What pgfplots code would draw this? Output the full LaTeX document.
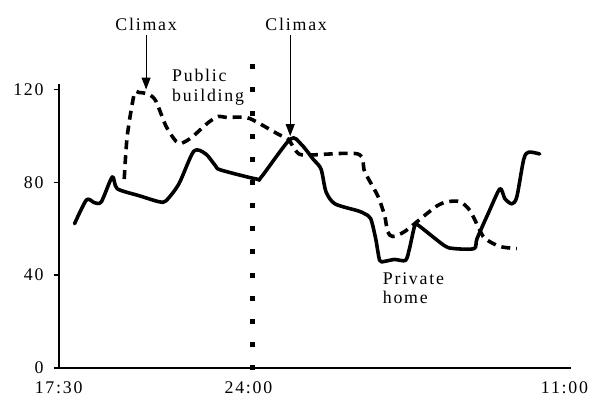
\documentclass[border=0pt]{standalone}
\usepackage{pgfplots}
\pgfplotsset{compat=1.18}
\usepackage{fontspec}
\setmainfont{Liberation Serif}[LetterSpace=10]
\usetikzlibrary{arrows.meta}

\begin{document}
\fontsize{18}{20}\selectfont
\begin{tikzpicture}
\begin{axis}[
  scale only axis, width=516bp, height=285.8bp,
  xmin=59, xmax=575, ymin=0, ymax=122.5,
  axis x line=bottom, axis y line=left,
  axis line style={-, line width=2.2bp},
  xtick={59,250,568}, xticklabels={17:30,24:00,11:00},
  ytick={0,40,80,120},
  x tick style={draw=none},
  y tick style={line width=1.5bp, black},
  major tick length=5bp, tick align=outside,
  yticklabel style={xshift=-4bp},
  xticklabel style={yshift=-3bp},
  clip=false,
  /pgf/number format/assume math mode=true,
  tick label style={font=\fontsize{18}{20}\selectfont},
]
% invisible frame, keeps the page at the reference size
\path (axis cs:0,-13.72) rectangle (axis cs:594,158.6);

% private home (solid)
\addplot[black, line width=3.6bp, smooth, tension=0.45, line cap=round, line join=round] coordinates {
  (75,62.1) (87,72.4) (95,71.2) (102,71.6) (113,82.3) (118,77.2) (140,74.2)
  (160,71.6) (167,72) (180,79.3) (195,93.4) (207,92.2) (217,87) (222,85.3)
  (258,81.4) (263,82.3) (292,98.6) (303,96.4) (315,90) (323,85.7) (328,75.9)
  (337,70.7) (360,67.7) (367,66.4) (373,64.3) (378,55.7) (382,46.3) (387,45.9)
  (397,46.7) (408,46.3) (412,51.4) (417,60.9) (420,61.7) (447,52.7) (457,51.4)
  (477,51.4) (480,55.7) (492,67.3) (503,77.2) (508,72.9) (515,70.7) (520,73.7)
  (527,90) (532,93) (543,92.2)
};

% public building (dashed)
\addplot[black, line width=3.6bp, smooth, tension=0.45, dash pattern=on 9bp off 6bp, line join=round] coordinates {
  (125,81.4) (128,99.9) (135,117.9) (140,118.7) (150,117.9) (157,114.9)
  (167,104.2) (177,97.7) (183,96.9) (193,99.4) (210,105.9) (220,108.4)
  (227,108) (247,108) (257,106.3) (280,100.7) (290,98.6) (298,93.4) (307,91.7)
  (360,92.2) (367,84.4) (380,74.2) (387,65.6) (390,58.7) (395,56.6) (407,58.7)
  (427,65.6) (440,69.9) (450,71.6) (463,71.6) (473,67.7) (482,60) (488,55.7)
  (503,52.3) (520,51.4)
};

% midnight marker (dotted)
\addplot[black, line width=5bp, dash pattern=on 5bp off 18.3bp] coordinates {(254,-1.07) (254,130.9)};

% annotations
\node at (axis cs:147,147.9) {Climax};
\draw[-{Triangle[length=12bp,width=9bp]}, line width=1.2bp] (axis cs:147,143.6) -- (axis cs:147,120);
\node at (axis cs:298,147.9) {Climax};
\draw[-{Triangle[length=12bp,width=9bp]}, line width=1.2bp] (axis cs:292,143.6) -- (axis cs:292,99.9);
\node[anchor=west, align=left, inner sep=0pt] at (axis cs:173,120.9) {Public\\building};
\node[anchor=west, align=left, inner sep=0pt] at (axis cs:385,34.3) {Private\\home};
\end{axis}
\end{tikzpicture}
\end{document}
